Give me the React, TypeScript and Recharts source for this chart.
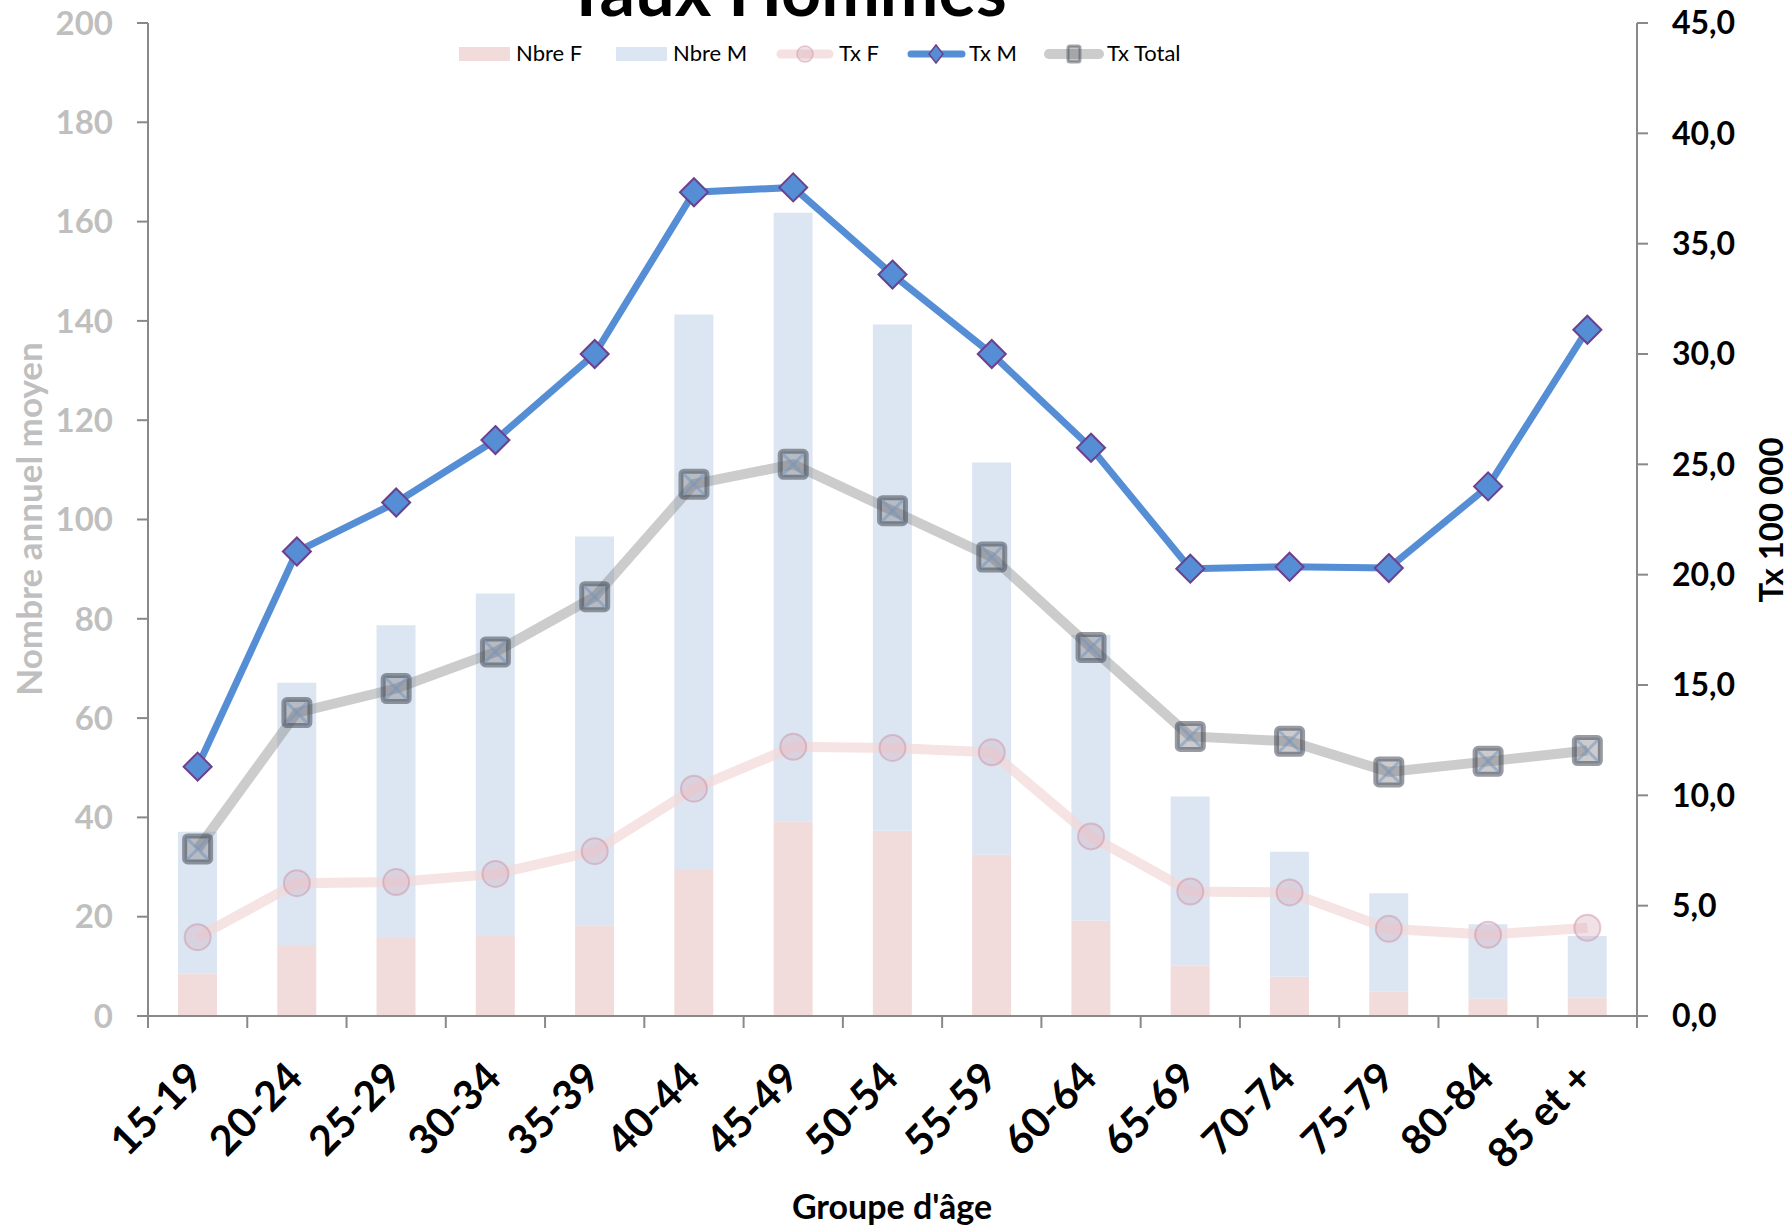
import React from 'react';
import { ComposedChart, Bar, Line, XAxis, YAxis } from 'recharts';

const categories = ['15-19', '20-24', '25-29', '30-34', '35-39', '40-44', '45-49', '50-54', '55-59', '60-64', '65-69', '70-74', '75-79', '80-84', '85 et +'];
const nbreF = [8.5, 14.3, 15.7, 16.1, 18.3, 29.6, 39.2, 37.3, 32.5, 19.2, 10.1, 7.9, 4.9, 3.5, 3.7];
const nbreM = [28.6, 52.8, 63.0, 69.0, 78.3, 111.7, 122.6, 102.0, 79.0, 57.6, 34.1, 25.2, 19.8, 15.0, 12.4];
const txF = [3.57, 6.02, 6.07, 6.44, 7.47, 10.3, 12.2, 12.15, 11.95, 8.14, 5.64, 5.6, 3.95, 3.68, 4.0];
const txM = [11.3, 21.05, 23.27, 26.1, 30.0, 37.33, 37.55, 33.6, 30.0, 25.75, 20.27, 20.36, 20.3, 24.0, 31.1];
const txTotal = [7.57, 13.75, 14.84, 16.5, 19.0, 24.1, 25.0, 22.9, 20.8, 16.7, 12.67, 12.45, 11.06, 11.54, 12.03];

const leftTicks = [0, 20, 40, 60, 80, 100, 120, 140, 160, 180, 200];
const rightTicks = [0, 5, 10, 15, 20, 25, 30, 35, 40, 45];

const data = categories.map((c, i) => ({
  cat: c,
  nbreF: nbreF[i],
  nbreM: nbreM[i],
  txF: txF[i],
  txM: txM[i],
  txTotal: txTotal[i],
}));

const FONT = 'Lato, "Open Sans", sans-serif';
const AXIS = '#898989';
const COL_F = '#f2dcdb';
const COL_M = '#dce6f2';
const COL_TXM = '#558ed5';
const DIAMOND_STROKE = '#6d3f8f';
const LABEL_DROP = 64;

const XTick = (props: any) => {
  const { x, y, payload, index, visibleTicksCount } = props;
  const half = payload && typeof payload.offset === 'number' ? payload.offset : 0;
  const axisY = y - LABEL_DROP;
  const isLast = index === (visibleTicksCount ? visibleTicksCount - 1 : categories.length - 1);
  return (
    <g>
      <line x1={x - half} y1={axisY} x2={x - half} y2={axisY + 12} stroke={AXIS} strokeWidth={2} />
      {isLast && (
        <line x1={x + half} y1={axisY} x2={x + half} y2={axisY + 12} stroke={AXIS} strokeWidth={2} />
      )}
      <g transform={`translate(${x + 8},${y})`}>
        <text
          x={0}
          y={0}
          textAnchor="end"
          transform="rotate(-45)"
          fontFamily={FONT}
          fontWeight="bold"
          fontSize={41}
          fill="#000"
        >
          {payload.value}
        </text>
      </g>
    </g>
  );
};

const DiamondDot = (props: any) => {
  const { cx, cy, index } = props;
  if (cx == null || cy == null) return <g key={`d${index}`} />;
  const r = 14;
  return (
    <path
      key={`d${index}`}
      d={`M${cx},${cy - r} L${cx + r},${cy} L${cx},${cy + r} L${cx - r},${cy} Z`}
      fill={COL_TXM}
      stroke={DIAMOND_STROKE}
      strokeWidth={2}
    />
  );
};

const SquareDot = (props: any) => {
  const { cx, cy, index } = props;
  if (cx == null || cy == null) return <g key={`s${index}`} />;
  const h = 13;
  return (
    <g key={`s${index}`}>
      <rect
        x={cx - h}
        y={cy - h}
        width={2 * h}
        height={2 * h}
        rx={3}
        fill="rgba(110,110,115,0.35)"
        stroke="rgba(70,75,85,0.55)"
        strokeWidth={5}
      />
      <line x1={cx - h + 2} y1={cy - h + 2} x2={cx + h - 2} y2={cy + h - 2} stroke="rgba(120,150,190,0.55)" strokeWidth={3} />
      <line x1={cx - h + 2} y1={cy + h - 2} x2={cx + h - 2} y2={cy - h + 2} stroke="rgba(120,150,190,0.55)" strokeWidth={3} />
    </g>
  );
};

const CircleDot = (props: any) => {
  const { cx, cy, index } = props;
  if (cx == null || cy == null) return <g key={`c${index}`} />;
  return (
    <circle
      key={`c${index}`}
      cx={cx}
      cy={cy}
      r={13}
      fill="rgba(215,170,185,0.35)"
      stroke="rgba(200,140,160,0.45)"
      strokeWidth={2}
    />
  );
};

const Overlay = () => (
  <svg
    width={1789}
    height={1226}
    style={{ position: 'absolute', left: 0, top: 0, pointerEvents: 'none' }}
  >
    <text x={786} y={16} textAnchor="middle" fontFamily={FONT} fontWeight="bold" fontSize={70} fill="#000">
      Taux Hommes
    </text>
    <g fontFamily={FONT} fontSize={22} fill="#000">
      <rect x={459} y={47} width={51} height={14} fill={COL_F} />
      <text x={516} y={61}>Nbre F</text>
      <rect x={616} y={47} width={51} height={14} fill={COL_M} />
      <text x={673} y={61}>Nbre M</text>
      <line x1={781} y1={54} x2={829} y2={54} stroke="rgba(242,215,215,0.75)" strokeWidth={9} strokeLinecap="round" />
      <circle cx={805} cy={54} r={8} fill="rgba(215,170,185,0.35)" stroke="rgba(200,140,160,0.45)" strokeWidth={1.5} />
      <text x={839} y={61}>Tx F</text>
      <line x1={911} y1={54} x2={962} y2={54} stroke={COL_TXM} strokeWidth={7} strokeLinecap="round" />
      <path d="M936,45 L943,54 L936,63 L929,54 Z" fill={COL_TXM} stroke={DIAMOND_STROKE} strokeWidth={1.5} />
      <text x={969} y={61}>Tx M</text>
      <line x1={1049} y1={54} x2={1099} y2={54} stroke="rgba(128,128,128,0.4)" strokeWidth={10} strokeLinecap="round" />
      <rect x={1068} y={46} width={12} height={16} rx={2} fill="rgba(110,110,115,0.4)" stroke="rgba(70,75,85,0.5)" strokeWidth={3} />
      <text x={1107} y={61}>Tx Total</text>
    </g>
    <text
      transform="translate(28,519) rotate(-90)"
      textAnchor="middle"
      dominantBaseline="central"
      fontFamily={FONT}
      fontWeight="bold"
      fontSize={35}
      fill="#bfbfbf"
    >
      Nombre annuel moyen
    </text>
    <text
      transform="translate(1770,520) rotate(-90)"
      textAnchor="middle"
      dominantBaseline="central"
      fontFamily={FONT}
      fontWeight="bold"
      fontSize={33}
      fill="#000"
    >
      Tx 100 000
    </text>
    <text x={892} y={1219} textAnchor="middle" fontFamily={FONT} fontWeight="bold" fontSize={34} fill="#000">
      Groupe d'âge
    </text>
  </svg>
);

export default function App() {
  return (
    <div style={{ position: 'absolute', left: 0, top: 0, width: 1789, height: 1226, background: '#fff' }}>
      <ComposedChart
        width={1789}
        height={1226}
        data={data}
        margin={{ top: 23, right: 0, bottom: 0, left: 0 }}
      >
        <XAxis
          dataKey="cat"
          interval={0}
          tick={<XTick />}
          tickLine={false}
          tickSize={0}
          tickMargin={LABEL_DROP}
          axisLine={{ stroke: AXIS, strokeWidth: 2 }}
          height={210}
        />
        <YAxis
          yAxisId="left"
          orientation="left"
          domain={[0, 200]}
          ticks={leftTicks}
          width={148}
          tickSize={11}
          tickMargin={24}
          axisLine={{ stroke: AXIS, strokeWidth: 2 }}
          tickLine={{ stroke: AXIS, strokeWidth: 2 }}
          tick={{ fontFamily: FONT, fontWeight: 'bold', fontSize: 33, fill: '#bfbfbf' }}
          interval={0}
        />
        <YAxis
          yAxisId="right"
          orientation="right"
          domain={[0, 45]}
          ticks={rightTicks}
          width={152}
          tickSize={11}
          tickMargin={24}
          axisLine={{ stroke: AXIS, strokeWidth: 2 }}
          tickLine={{ stroke: AXIS, strokeWidth: 2 }}
          tick={{ fontFamily: FONT, fontWeight: 'bold', fontSize: 32, fill: '#000' }}
          tickFormatter={(v: number) => v.toFixed(1).replace('.', ',')}
          interval={0}
        />
        <Bar yAxisId="left" dataKey="nbreF" stackId="a" fill={COL_F} barSize={39} isAnimationActive={false} />
        <Bar yAxisId="left" dataKey="nbreM" stackId="a" fill={COL_M} barSize={39} isAnimationActive={false} />
        <Line
          yAxisId="right"
          dataKey="txF"
          stroke="rgba(242,215,215,0.7)"
          strokeWidth={10}
          dot={<CircleDot />}
          activeDot={false}
          isAnimationActive={false}
        />
        <Line
          yAxisId="right"
          dataKey="txM"
          stroke={COL_TXM}
          strokeWidth={7}
          dot={<DiamondDot />}
          activeDot={false}
          isAnimationActive={false}
        />
        <Line
          yAxisId="right"
          dataKey="txTotal"
          stroke="rgba(128,128,128,0.4)"
          strokeWidth={10}
          dot={<SquareDot />}
          activeDot={false}
          isAnimationActive={false}
        />
      </ComposedChart>
      <Overlay />
    </div>
  );
}
